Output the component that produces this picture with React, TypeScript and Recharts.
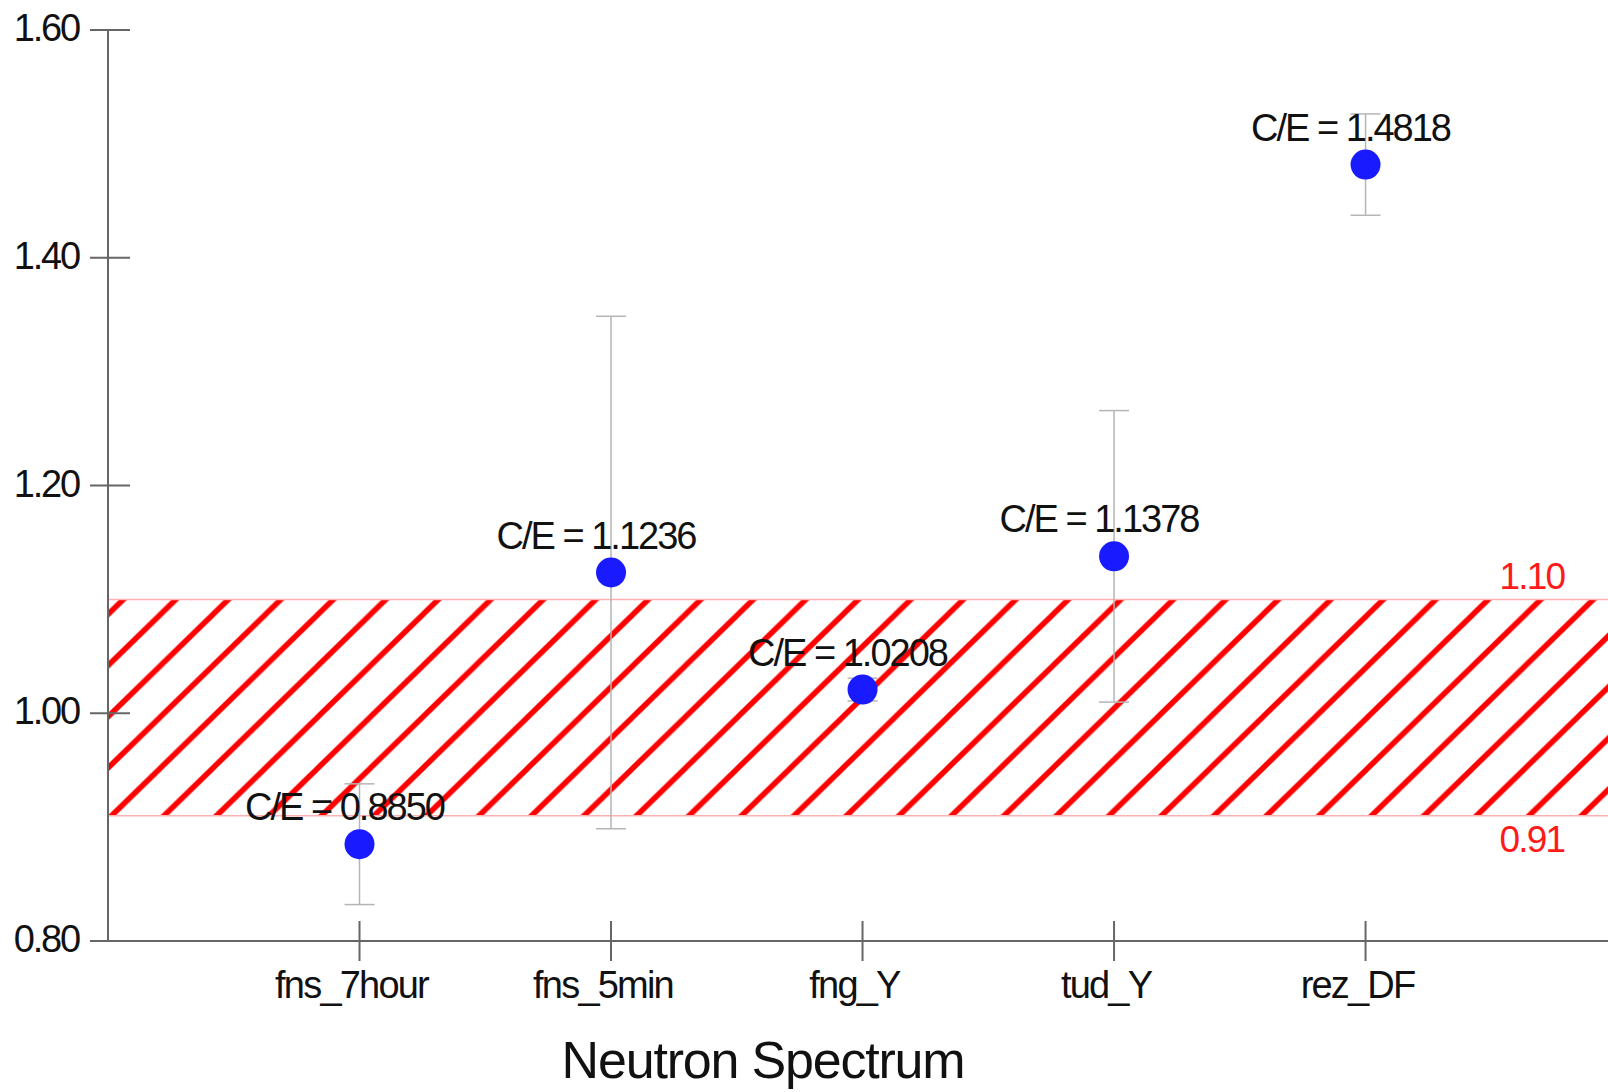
import React from "react";
import {
  ErrorBar,
  ReferenceArea,
  ReferenceLine,
  Scatter,
  ScatterChart,
  XAxis,
  YAxis
} from "recharts";

const categories = ["fns_7hour", "fns_5min", "fng_Y", "tud_Y", "rez_DF"];
const ceValues = [0.885, 1.1236, 1.0208, 1.1378, 1.4818];
const ceErrors = [0.053, 0.225, 0.01, 0.128, 0.0445];
const yTicks = [0.8, 1.0, 1.2, 1.4, 1.6];
const xTicks = [1, 2, 3, 4, 5];
const bandLow = 0.91;
const bandHigh = 1.1;

const FONT = '"Liberation Sans", Arial, sans-serif';
const AXIS_COLOR = "#666666";
const BAND_RED = "#ff0000";

const data = categories.map((name, i) => ({
  x: i + 1,
  name,
  ce: ceValues[i],
  err: ceErrors[i]
}));

function YTick({ x, y, payload }: any) {
  return (
    <g>
      <line x1={x - 18} x2={x + 22} y1={y} y2={y} stroke={AXIS_COLOR} strokeWidth={2} />
      <text
        x={x - 29}
        y={y}
        dy={11}
        textAnchor="end"
        fill="#111"
        fontFamily={FONT}
        fontSize={38}
        letterSpacing={-2.2}
      >
        {Number(payload.value).toFixed(2)}
      </text>
    </g>
  );
}

function XTick({ x, y, payload }: any) {
  return (
    <g>
      <line x1={x} x2={x} y1={y - 20} y2={y + 20} stroke={AXIS_COLOR} strokeWidth={2} />
      <text
        x={x - 8}
        y={y}
        dy={57}
        textAnchor="middle"
        fill="#111"
        fontFamily={FONT}
        fontSize={38}
        letterSpacing={-1.8}
      >
        {categories[payload.value - 1]}
      </text>
    </g>
  );
}

function PointShape({ cx, cy, payload }: any) {
  return (
    <g>
      <circle cx={cx} cy={cy} r={15} fill="#1a1aff" />
      <text
        x={cx - 15}
        y={cy - 24}
        textAnchor="middle"
        fill="#111"
        fontFamily={FONT}
        fontSize={38}
        letterSpacing={-2}
      >
        {`C/E = ${payload.ce.toFixed(4)}`}
      </text>
    </g>
  );
}

function bandLabel(text: string, above: boolean) {
  return ({ viewBox }: any) => (
    <text
      x={viewBox.x + viewBox.width - 76}
      y={viewBox.y + (above ? -10 : 36)}
      textAnchor="middle"
      fill="#ff1a1a"
      fontFamily={FONT}
      fontSize={37}
      letterSpacing={-1.8}
    >
      {text}
    </text>
  );
}

export default function App() {
  return (
    <div style={{ position: "absolute", left: 0, top: 0, background: "#fff" }}>
      <ScatterChart
        width={1608}
        height={1092}
        margin={{ top: 30, right: 0, bottom: 0, left: 0 }}
      >
        <defs>
          <pattern
            id="hatch"
            patternUnits="userSpaceOnUse"
            x={3}
            y={0}
            width={52.5}
            height={51.2}
          >
            <path
              d="M -26.25 25.6 L 26.25 -25.6 M 0 51.2 L 52.5 0 M 26.25 76.8 L 78.75 25.6"
              stroke={BAND_RED}
              strokeWidth={5.5}
            />
          </pattern>
        </defs>
        <XAxis
          type="number"
          dataKey="x"
          domain={[0, 5.964]}
          ticks={xTicks}
          allowDataOverflow
          height={151}
          tickSize={0}
          tickMargin={0}
          tickLine={false}
          axisLine={{ stroke: AXIS_COLOR, strokeWidth: 2 }}
          tick={<XTick />}
          label={{
            content: ({ viewBox }: any) => (
              <text
                x={viewBox.x + 655}
                y={1078}
                textAnchor="middle"
                fill="#111"
                fontFamily={FONT}
                fontSize={52}
                letterSpacing={-1.2}
              >
                Neutron Spectrum
              </text>
            )
          }}
        />
        <YAxis
          type="number"
          dataKey="ce"
          domain={[0.8, 1.6]}
          ticks={yTicks}
          width={108}
          tickSize={0}
          tickMargin={0}
          tickLine={false}
          axisLine={{ stroke: AXIS_COLOR, strokeWidth: 2 }}
          tick={<YTick />}
        />
        <ReferenceArea
          y1={bandLow}
          y2={bandHigh}
          fill="url(#hatch)"
          fillOpacity={1}
          stroke="none"
        />
        <ReferenceLine
          y={bandHigh}
          stroke="#ffb0b0"
          strokeWidth={1.5}
          label={bandLabel("1.10", true)}
        />
        <ReferenceLine
          y={bandLow}
          stroke="#ffb0b0"
          strokeWidth={1.5}
          label={bandLabel("0.91", false)}
        />
        <Scatter data={data} shape={<PointShape />} isAnimationActive={false}>
          <ErrorBar
            dataKey="err"
            direction="y"
            width={15}
            stroke="#b5b5b5"
            strokeWidth={1.5}
            isAnimationActive={false}
          />
        </Scatter>
      </ScatterChart>
    </div>
  );
}
